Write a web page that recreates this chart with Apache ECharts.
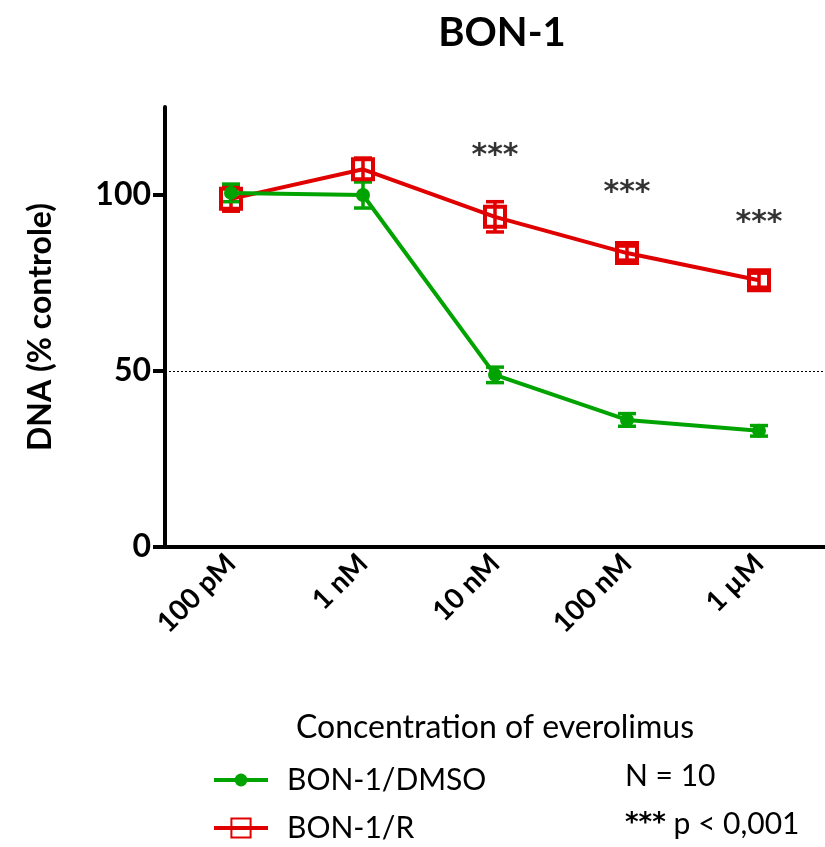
<!DOCTYPE html>
<html>
<head>
<meta charset="utf-8">
<script src="https://cdn.jsdelivr.net/npm/echarts@6/dist/echarts.min.js"></script>
<style>
  html, body { margin: 0; padding: 0; background: #fff; }
  #chart { width: 825px; height: 847px; }
</style>
</head>
<body>
<div id="chart"></div>
<script>
const FONT = 'Lato, "Open Sans", sans-serif';
const STAR_FONT = '"DejaVu Sans", sans-serif';

// Concentrations of everolimus
const categories = ['100 pM', '1 nM', '10 nM', '100 nM', '1 µM'];
const yTicks = [0, 50, 100];

// DNA (% controle), mean and error
const dmsoMean = [100.6, 100.0, 48.9, 36.1, 33.0];
const dmsoErr = [2.5, 3.7, 2.2, 1.8, 1.5];
const resMean = [98.9, 107.3, 93.8, 83.5, 75.8];
const resErr = [3.5, 3.2, 4.3, 2.0, 2.0];

// significance marks (y position of the "***")
const starCats = ['10 nM', '100 nM', '1 µM'];
const starY = [111, 100.5, 92];

const GREEN = '#00A300';
const RED = '#E00000';

const errData = (mean, err) => mean.map((m, i) => [i, m - err[i], m + err[i]]);

const errorBars = (name, color, mean, err) => ({
  name: name + ' err',
  type: 'custom',
  silent: true,
  z: 3,
  data: errData(mean, err),
  renderItem: (params, api) => {
    const lo = api.coord([api.value(0), api.value(1)]);
    const hi = api.coord([api.value(0), api.value(2)]);
    const cap = 9;
    const style = { stroke: color, lineWidth: 3.5 };
    return {
      type: 'group',
      children: [
        { type: 'line', shape: { x1: lo[0], y1: lo[1], x2: hi[0], y2: hi[1] }, style },
        { type: 'line', shape: { x1: lo[0] - cap, y1: lo[1], x2: lo[0] + cap, y2: lo[1] }, style },
        { type: 'line', shape: { x1: hi[0] - cap, y1: hi[1], x2: hi[0] + cap, y2: hi[1] }, style }
      ]
    };
  }
});

const legendBase = {
  orient: 'vertical',
  left: 207,
  itemWidth: 54,
  lineStyle: { width: 4 },
  textStyle: { fontFamily: FONT, fontSize: 30, color: '#000', padding: [0, 0, 0, 14] }
};

const chart = echarts.init(document.getElementById('chart'));
chart.setOption({
  animation: false,
  title: {
    text: 'BON-1',
    left: 497,
    top: 8,
    textAlign: 'center',
    textStyle: { fontFamily: FONT, fontSize: 40, fontWeight: 'bold', color: '#000' }
  },
  grid: { left: 165, right: 0, top: 107, height: 440 },
  legend: [
    Object.assign({ data: ['BON-1/DMSO'], top: 760, itemHeight: 16 }, legendBase),
    Object.assign({ data: ['BON-1/R'], top: 808, itemHeight: 24 }, legendBase)
  ],
  xAxis: {
    type: 'category',
    data: categories,
    name: 'Concentration of everolimus',
    nameLocation: 'middle',
    nameGap: 165,
    nameTextStyle: { fontFamily: FONT, fontSize: 32, color: '#000' },
    axisLine: { lineStyle: { color: '#000', width: 4 } },
    axisTick: { alignWithLabel: true, length: 12, lineStyle: { color: '#000', width: 4 } },
    axisLabel: { rotate: 45, margin: 12, fontFamily: FONT, fontSize: 28, fontWeight: 'bold', color: '#000' }
  },
  yAxis: {
    type: 'value',
    min: 0,
    max: 125,
    interval: 50,
    name: 'DNA (% controle)',
    nameLocation: 'middle',
    nameGap: 108,
    nameTextStyle: { fontFamily: FONT, fontSize: 32, fontWeight: 'bold', color: '#000' },
    splitLine: { show: false },
    axisLine: { show: true, lineStyle: { color: '#000', width: 4 } },
    axisTick: { show: true, customValues: yTicks, length: 12, lineStyle: { color: '#000', width: 4 } },
    axisLabel: { customValues: yTicks, margin: 14, fontFamily: FONT, fontSize: 32, fontWeight: 'bold', color: '#000' }
  },
  series: [
    errorBars('BON-1/R', RED, resMean, resErr),
    errorBars('BON-1/DMSO', GREEN, dmsoMean, dmsoErr),
    {
      name: 'BON-1/R',
      type: 'line',
      z: 4,
      data: resMean,
      symbol: 'rect',
      symbolSize: 20,
      lineStyle: { color: RED, width: 4 },
      itemStyle: { color: 'rgba(255,255,255,0)', borderColor: RED, borderWidth: 4 },
      markLine: {
        silent: true,
        symbol: 'none',
        label: { show: false },
        lineStyle: { color: '#000', type: [2, 2], width: 1 },
        data: [{ yAxis: 50 }]
      }
    },
    {
      name: 'BON-1/DMSO',
      type: 'line',
      z: 5,
      data: dmsoMean,
      symbol: 'circle',
      symbolSize: 14,
      lineStyle: { color: GREEN, width: 4 },
      itemStyle: { color: GREEN, borderWidth: 0 }
    },
    {
      name: 'stars',
      type: 'scatter',
      silent: true,
      symbolSize: 0,
      data: starCats.map((c, i) => [c, starY[i]]),
      label: {
        show: true,
        position: 'inside',
        formatter: '***',
        fontFamily: STAR_FONT,
        fontSize: 30,
        fontWeight: 'bold',
        color: '#000'
      }
    }
  ],
  graphic: [
    {
      type: 'text', left: 625, top: 761,
      style: { text: 'N = 10', fontFamily: FONT, fontSize: 30, fill: '#000' }
    },
    {
      type: 'text', left: 625, top: 809,
      style: {
        text: '{s|***} p < 0,001',
        fontFamily: FONT, fontSize: 30, fill: '#000',
        rich: { s: { fontFamily: STAR_FONT, fontSize: 26, fontWeight: 'bold', fill: '#000' } }
      }
    }
  ]
});
</script>
</body>
</html>
